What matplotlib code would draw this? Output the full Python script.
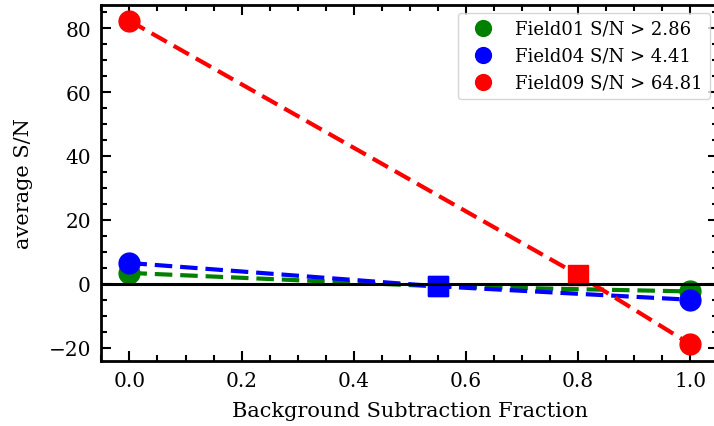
import matplotlib
matplotlib.use("Agg")
import matplotlib.pyplot as plt
from matplotlib.ticker import MultipleLocator

plt.rcParams['font.family'] = 'DejaVu Serif'
plt.rcParams['font.size'] = 14.5

# background subtraction fractions and average S/N per field
frac01 = [0.0, 0.55, 1.0]
sn01 = [3.4, -0.8, -2.4]
frac04 = [0.0, 0.55, 1.0]
sn04 = [6.5, -0.8, -5.0]
frac09 = [0.0, 0.8, 1.0]
sn09 = [82.3, 2.8, -18.9]

labels = ['Field01 S/N > 2.86', 'Field04 S/N > 4.41', 'Field09 S/N > 64.81']
colors = ['green', 'blue', 'red']

fig = plt.figure(figsize=(7.14, 4.27), dpi=100)
ax = fig.add_axes([0.142, 0.153, 0.864, 0.834])

for x, y, c, lab in zip([frac01, frac04, frac09], [sn01, sn04, sn09], colors, labels):
    ax.plot(x, y, '--', color=c, lw=3, dashes=(4.2, 1.9))
    ax.plot([x[0], x[2]], [y[0], y[2]], 'o', color=c, ms=15, label=lab)
    ax.plot(x[1], y[1], 's', color=c, ms=15)

ax.axhline(0, color='k', lw=2.2)

ax.set_xlim(-0.05, 1.05)
ax.set_ylim(-24.06, 87.37)
ax.xaxis.set_major_locator(MultipleLocator(0.2))
ax.xaxis.set_minor_locator(MultipleLocator(0.05))
ax.yaxis.set_major_locator(MultipleLocator(20))
ax.yaxis.set_minor_locator(MultipleLocator(5))
ax.tick_params(which='both', direction='in', top=True, right=True, width=1.5, pad=7.5)
ax.tick_params(which='major', length=7)
ax.tick_params(which='minor', length=4)
for s in ax.spines.values():
    s.set_linewidth(2)

ax.set_xlabel('Background Subtraction Fraction', fontsize=15, labelpad=8)
ax.set_ylabel('average S/N', fontsize=15, labelpad=11)
ax.legend(loc='upper right', markerscale=0.76, fontsize=13, borderaxespad=0.45)

fig.savefig('out.png', dpi=100)
